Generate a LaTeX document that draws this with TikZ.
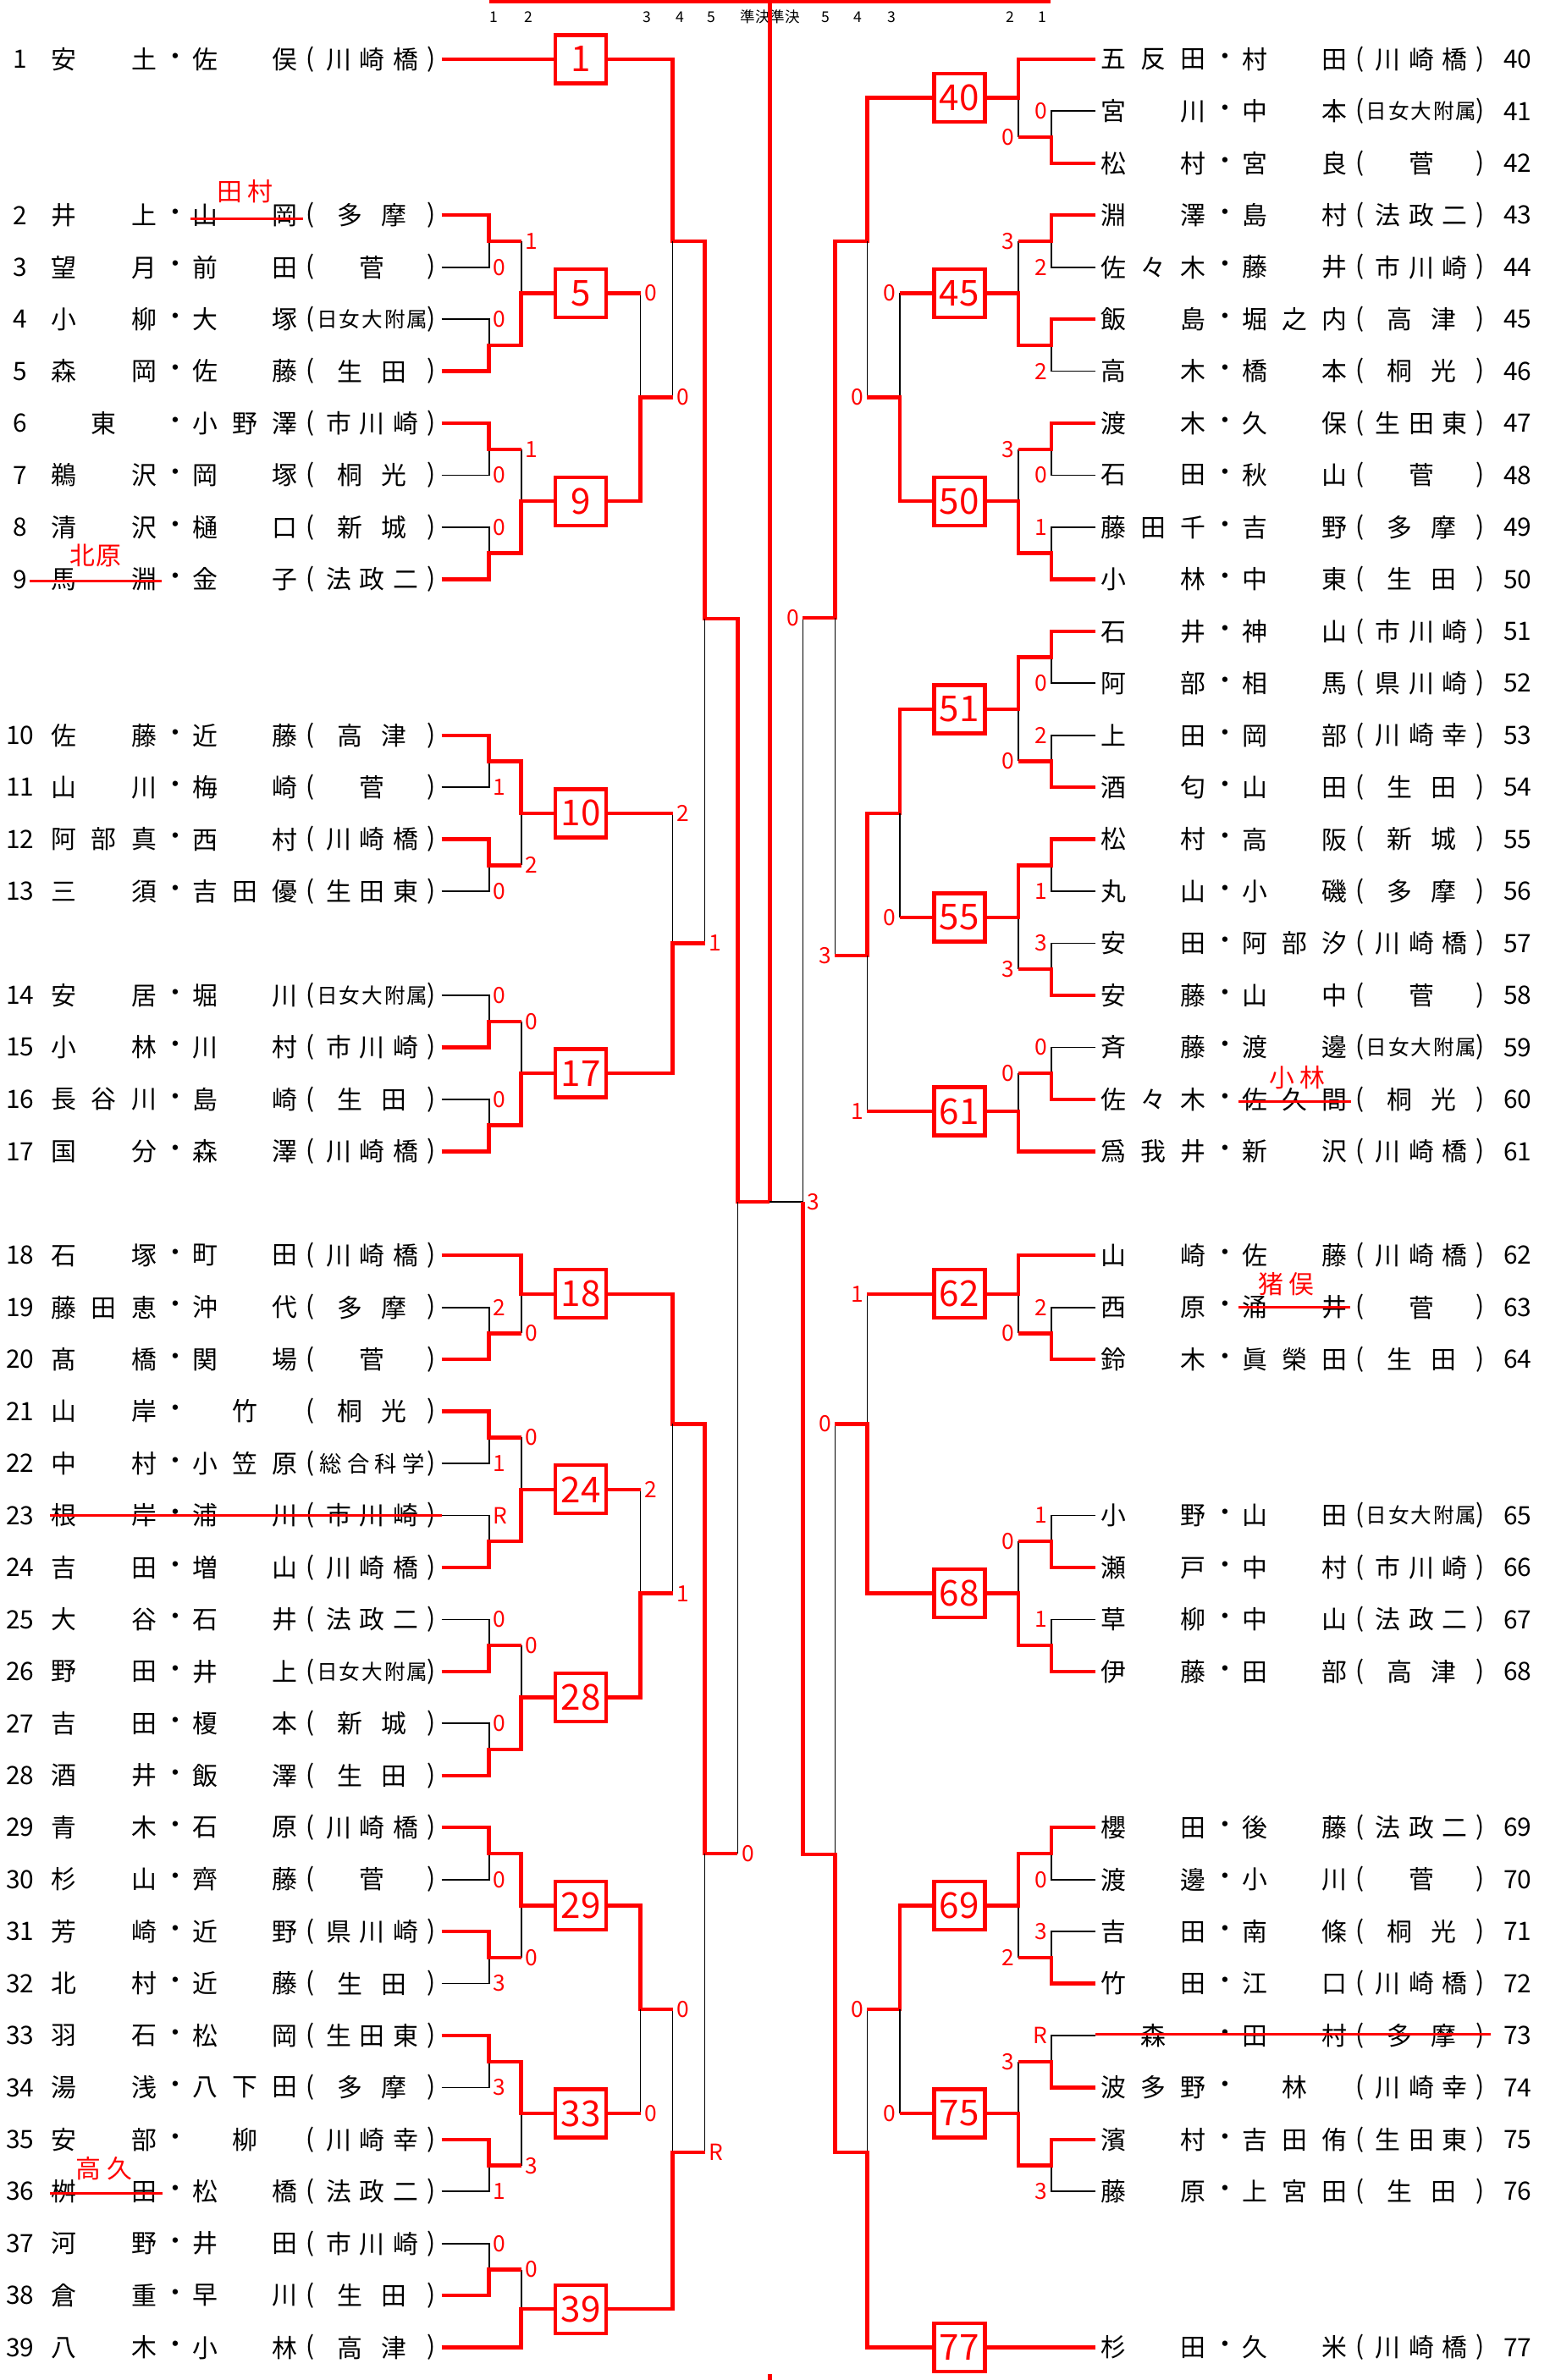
\documentclass[tikz,border=0pt]{standalone}
\usepackage{fontspec}
\setmainfont{Noto Sans CJK JP}
\usepackage{xcolor}

% spread a few characters over a fixed width (one char: centred)
\newcount\nch
\def\cntloop#1#2\relax{\advance\nch by 1 \ifx\relax#2\relax\else\cntloop#2\relax\fi}
\def\sprloop#1#2\relax{#1\ifx\relax#2\relax\else\hfill\sprloop#2\relax\fi}
\newcommand\spread[2]{\makebox[#1][s]{\hskip0pt plus1fil\expandafter\sprloop#2\relax\hskip0pt plus1fil}}
\newcommand\school[1]{\nch=0 \expandafter\cntloop#1\relax
  \ifcase\nch\or\spread{0.3cm}{#1}\or\spread{0.82cm}{#1}\or\spread{1.09cm}{#1}%
  \or{\fontsize{7.5}{9}\selectfont\spread{1.24cm}{#1}}%
  \else{\fontsize{7}{8}\selectfont\spread{1.31cm}{#1}}\fi}

\begin{document}
\begin{tikzpicture}[
x=0.01cm,
y=-0.6145cm,
nm/.style={inner sep=0pt,font=\fontsize{8.5}{10}\selectfont},
rownum/.style={inner sep=0pt,font=\fontsize{8.5}{10}\selectfont},
box/.style={rectangle,draw=red,line width=1.25pt,fill=white,minimum width=0.6cm,minimum height=0.57cm,inner sep=0pt,text=red,font=\fontsize{12}{12}\selectfont},
win/.style={draw=red,line width=1.25pt},
loss/.style={draw=black,line width=0.5pt},
sc/.style={inner sep=0pt,text=red,font=\fontsize{7.5}{8}\selectfont},
lsc/.style={sc,anchor=west,xshift=0.04cm},
rsc/.style={sc,anchor=east,xshift=-0.04cm},
strike/.style={draw=red,line width=0.9pt},
fix/.style={inner sep=0pt,text=red,font=\fontsize{8.5}{10}\selectfont},
hd/.style={inner sep=0pt,font=\fontsize{5}{6}\selectfont}
]
\useasboundingbox (0,-1.1375) rectangle (1832,44.624);

% round header
\foreach \x/\t [count=\i] in {584/1,625/2,765/3,804/4,841/5,893/準決,928/準決,975.5/5,1014/4,1054/3,1194/2,1232.5/1}
  \node[hd] (hd\i) at (\x,-0.81) {\t};

% players, left half
\foreach \k/\nr/\fa/\gi/\sc in {0/1/安土/佐俣/川崎橋,3/2/井上/山岡/多摩,4/3/望月/前田/菅,
  5/4/小柳/大塚/日女大附属,6/5/森岡/佐藤/生田,7/6/東/小野澤/市川崎,8/7/鵜沢/岡塚/桐光,
  9/8/清沢/樋口/新城,10/9/馬淵/金子/法政二,13/10/佐藤/近藤/高津,14/11/山川/梅崎/菅,
  15/12/阿部真/西村/川崎橋,16/13/三須/吉田優/生田東,18/14/安居/堀川/日女大附属,
  19/15/小林/川村/市川崎,20/16/長谷川/島崎/生田,21/17/国分/森澤/川崎橋,
  23/18/石塚/町田/川崎橋,24/19/藤田恵/沖代/多摩,25/20/髙橋/関場/菅,26/21/山岸/竹/桐光,
  27/22/中村/小笠原/総合科学,28/23/根岸/浦川/市川崎,29/24/吉田/増山/川崎橋,
  30/25/大谷/石井/法政二,31/26/野田/井上/日女大附属,32/27/吉田/榎本/新城,
  33/28/酒井/飯澤/生田,34/29/青木/石原/川崎橋,35/30/杉山/齊藤/菅,36/31/芳崎/近野/県川崎,
  37/32/北村/近藤/生田,38/33/羽石/松岡/生田東,39/34/湯浅/八下田/多摩,40/35/安部/柳/川崎幸,
  41/36/桝田/松橋/法政二,42/37/河野/井田/市川崎,43/38/倉重/早川/生田,44/39/八木/小林/高津}{
  \node[rownum] (n\nr) at (24,\k) {\nr};
  \node[nm] (fa\nr) at (123,\k) {\spread{1.24cm}{\fa}};
  \node[nm] (dt\nr) at (208,\k) {・};
  \node[nm] (gi\nr) at (290,\k) {\spread{1.24cm}{\gi}};
  \node[nm] (lp\nr) at (367,\k) {(};
  \node[nm] (sc\nr) at (440,\k) {\school{\sc}};
  \node[nm] (rp\nr) at (510,\k) {)};
  \coordinate (e\nr) at (522,\k);
}

% players, right half
\foreach \k/\nr/\fa/\gi/\sc in {0/40/五反田/村田/川崎橋,1/41/宮川/中本/日女大附属,2/42/松村/宮良/菅,
  3/43/淵澤/島村/法政二,4/44/佐々木/藤井/市川崎,5/45/飯島/堀之内/高津,6/46/高木/橋本/桐光,
  7/47/渡木/久保/生田東,8/48/石田/秋山/菅,9/49/藤田千/吉野/多摩,10/50/小林/中東/生田,
  11/51/石井/神山/市川崎,12/52/阿部/相馬/県川崎,13/53/上田/岡部/川崎幸,14/54/酒匂/山田/生田,
  15/55/松村/高阪/新城,16/56/丸山/小磯/多摩,17/57/安田/阿部汐/川崎橋,18/58/安藤/山中/菅,
  19/59/斉藤/渡邊/日女大附属,20/60/佐々木/佐久間/桐光,21/61/爲我井/新沢/川崎橋,
  23/62/山崎/佐藤/川崎橋,24/63/西原/涌井/菅,25/64/鈴木/眞榮田/生田,
  28/65/小野/山田/日女大附属,29/66/瀬戸/中村/市川崎,30/67/草柳/中山/法政二,31/68/伊藤/田部/高津,
  34/69/櫻田/後藤/法政二,35/70/渡邊/小川/菅,36/71/吉田/南條/桐光,37/72/竹田/江口/川崎橋,
  38/73/森/田村/多摩,39/74/波多野/林/川崎幸,40/75/濱村/吉田侑/生田東,41/76/藤原/上宮田/生田,
  44/77/杉田/久米/川崎橋}{
  \node[rownum] (n\nr) at (1794,\k) {\nr};
  \node[nm] (fa\nr) at (1363,\k) {\spread{1.24cm}{\fa}};
  \node[nm] (dt\nr) at (1448,\k) {・};
  \node[nm] (gi\nr) at (1530,\k) {\spread{1.24cm}{\gi}};
  \node[nm] (lp\nr) at (1607,\k) {(};
  \node[nm] (sc\nr) at (1680,\k) {\school{\sc}};
  \node[nm] (rp\nr) at (1750,\k) {)};
  \coordinate (e\nr) at (1295,\k);
}

% block winners
\foreach \b/\k in {1/0,5/4.5,9/8.5,10/14.5,17/19.5,18/23.74,24/27.5,28/31.5,29/35.5,33/39.5,39/43.26}
  \node[box] (b\b) at (686.5,\k) {\b};
\foreach \b/\k in {40/0.74,45/4.5,50/8.5,51/12.5,55/16.5,61/20.23,62/23.74,68/29.5,69/35.5,75/39.5,77/44}
  \node[box] (b\b) at (1134,\k) {\b};

% left top quarter
\draw[win] (e1) -- (b1.west);
\draw[win] (b1.east) -| (795,3.5) -| (833,10.76) -| (872,21.97) -- (910,21.97);
\draw[win,line width=1.4pt] (910,21.97) -- (910,-1.1375);
\draw[win] (578,-1.115) -- (1242,-1.115);

\draw[loss] (e3) -| (578,3.5);
\draw[loss] (e4) -| (578,5.5);
\draw[loss] (616,3.5) -- (616,4.5);
\draw[win] (e2) -| (578,3.5) -- (616,3.5);
\draw[win] (e5) -| (578,5.5) -| (616,4.5) -- (b5.west);
\draw[loss] (757,4.5) -- (757,6.5);
\draw[win] (b5.east) -- (757,4.5);

\draw[loss] (e7) -| (578,7.5);
\draw[loss] (e8) -| (578,9.5);
\draw[loss] (616,7.5) -- (616,8.5);
\draw[win] (e6) -| (578,7.5) -- (616,7.5);
\draw[win] (e9) -| (578,9.5) -| (616,8.5) -- (b9.west);
\draw[loss] (795,6.5) -- (795,3.5);
\draw[win] (b9.east) -| (757,6.5) -- (795,6.5);

\draw[loss] (e11) -| (578,13.5);
\draw[loss] (e13) -| (578,15.5);
\draw[loss] (616,15.5) -- (616,14.5);
\draw[win] (e12) -| (578,15.5) -- (616,15.5);
\draw[win] (e10) -| (578,13.5) -| (616,14.5) -- (b10.west);
\draw[loss] (795,14.5) -- (795,17);
\draw[win] (b10.east) -- (795,14.5);

\draw[loss] (e14) -| (578,18.5);
\draw[loss] (e16) -| (578,20.5);
\draw[loss] (616,18.5) -- (616,19.5);
\draw[win] (e15) -| (578,18.5) -- (616,18.5);
\draw[win] (e17) -| (578,20.5) -| (616,19.5) -- (b17.west);
\draw[loss] (833,17) -- (833,10.76);
\draw[win] (b17.east) -| (795,17) -- (833,17);

% left bottom quarter
\draw[loss] (e19) -| (578,24.5);
\draw[loss] (616,24.5) -- (616,23.74);
\draw[win] (e20) -| (578,24.5) -- (616,24.5);
\draw[loss] (872,34.5) -- (872,21.97);
\draw[win] (e18) -| (616,23.74) -- (b18.west);
\draw[win] (b18.east) -| (795,26.24) -| (833,34.5) -- (872,34.5);

\draw[loss] (e22) -| (578,26.5);
\draw[loss] (e23) -| (578,28.5);
\draw[loss] (616,26.5) -- (616,27.5);
\draw[win] (e21) -| (578,26.5) -- (616,26.5);
\draw[win] (e24) -| (578,28.5) -| (616,27.5) -- (b24.west);
\draw[loss] (757,27.5) -- (757,29.5);
\draw[win] (b24.east) -- (757,27.5);

\draw[loss] (e25) -| (578,30.5);
\draw[loss] (e27) -| (578,32.5);
\draw[loss] (616,30.5) -- (616,31.5);
\draw[win] (e26) -| (578,30.5) -- (616,30.5);
\draw[win] (e28) -| (578,32.5) -| (616,31.5) -- (b28.west);
\draw[loss] (795,29.5) -- (795,26.24);
\draw[win] (b28.east) -| (757,29.5) -- (795,29.5);

\draw[loss] (e30) -| (578,34.5);
\draw[loss] (e32) -| (578,36.5);
\draw[loss] (616,36.5) -- (616,35.5);
\draw[win] (e31) -| (578,36.5) -- (616,36.5);
\draw[win] (e29) -| (578,34.5) -| (616,35.5) -- (b29.west);
\draw[loss] (795,37.5) -- (795,40.25);
\draw[win] (b29.east) -| (757,37.5) -- (795,37.5);

\draw[loss] (e34) -| (578,38.5);
\draw[loss] (e36) -| (578,40.5);
\draw[loss] (616,40.5) -- (616,39.5);
\draw[win] (e35) -| (578,40.5) -- (616,40.5);
\draw[win] (e33) -| (578,38.5) -| (616,39.5) -- (b33.west);
\draw[loss] (757,39.5) -- (757,37.5);
\draw[win] (b33.east) -- (757,39.5);

\draw[loss] (e37) -| (578,42.5);
\draw[loss] (616,42.5) -- (616,43.26);
\draw[win] (e38) -| (578,42.5) -- (616,42.5);
\draw[loss] (833,40.25) -- (833,34.5);
\draw[win] (e39) -| (616,43.26) -- (b39.west);
\draw[win] (b39.east) -| (795,40.25) -- (833,40.25);

% right top quarter
\draw[loss] (e41) -| (1243,1.5);
\draw[loss] (1204,1.5) -- (1204,0.74);
\draw[win] (e42) -| (1243,1.5) -- (1204,1.5);
\draw[loss] (949,10.74) -- (949,21.97);
\draw[win] (e40) -| (1204,0.74) -- (b40.east);
\draw[win] (b40.west) -| (1025,3.5) -| (987,10.74) -- (949,10.74);

\draw[loss] (e44) -| (1243,3.5);
\draw[loss] (e46) -| (1243,5.5);
\draw[loss] (1204,3.5) -- (1204,4.5);
\draw[win] (e43) -| (1243,3.5) -- (1204,3.5);
\draw[win] (e45) -| (1243,5.5) -| (1204,4.5) -- (b45.east);
\draw[loss] (1063.5,4.5) -- (1063.5,6.5);
\draw[win] (b45.west) -- (1063.5,4.5);

\draw[loss] (e48) -| (1243,7.5);
\draw[loss] (e49) -| (1243,9.5);
\draw[loss] (1204,7.5) -- (1204,8.5);
\draw[win] (e47) -| (1243,7.5) -- (1204,7.5);
\draw[win] (e50) -| (1243,9.5) -| (1204,8.5) -- (b50.east);
\draw[loss] (1025,6.5) -- (1025,3.5);
\draw[win] (b50.west) -| (1063.5,6.5) -- (1025,6.5);

\draw[loss] (e52) -| (1243,11.5);
\draw[loss] (e53) -| (1243,13.5);
\draw[loss] (1204,13.5) -- (1204,12.5);
\draw[win] (e54) -| (1243,13.5) -- (1204,13.5);
\draw[win] (e51) -| (1243,11.5) -| (1204,12.5) -- (b51.east);
\draw[loss] (987,17.24) -- (987,10.74);
\draw[win] (b51.west) -| (1063.5,14.5) -| (1025,17.24) -- (987,17.24);

\draw[loss] (e56) -| (1243,15.5);
\draw[loss] (e57) -| (1243,17.5);
\draw[loss] (1204,17.5) -- (1204,16.5);
\draw[win] (e58) -| (1243,17.5) -- (1204,17.5);
\draw[win] (e55) -| (1243,15.5) -| (1204,16.5) -- (b55.east);
\draw[loss] (1063.5,16.5) -- (1063.5,14.5);
\draw[win] (b55.west) -- (1063.5,16.5);

\draw[loss] (e59) -| (1243,19.5);
\draw[loss] (1204,19.5) -- (1204,20.23);
\draw[win] (e60) -| (1243,19.5) -- (1204,19.5);
\draw[loss] (1025,20.23) -- (1025,17.24);
\draw[win] (e61) -| (1204,20.23) -- (b61.east);
\draw[win] (b61.west) -- (1025,20.23);

% right bottom quarter
\draw[loss] (e63) -| (1243,24.5);
\draw[loss] (1204,24.5) -- (1204,23.74);
\draw[win] (e64) -| (1243,24.5) -- (1204,24.5);
\draw[loss] (1025,23.74) -- (1025,26.24);
\draw[win] (e62) -| (1204,23.74) -- (b62.east);
\draw[win] (b62.west) -- (1025,23.74);

\draw[loss] (e65) -| (1243,28.5);
\draw[loss] (e67) -| (1243,30.5);
\draw[loss] (1204,28.5) -- (1204,29.5);
\draw[win] (e66) -| (1243,28.5) -- (1204,28.5);
\draw[win] (e68) -| (1243,30.5) -| (1204,29.5) -- (b68.east);
\draw[loss] (987,26.24) -- (987,34.52);
\draw[win] (b68.west) -| (1025,26.24) -- (987,26.24);

\draw[loss] (e70) -| (1243,34.5);
\draw[loss] (e71) -| (1243,36.5);
\draw[loss] (1204,36.5) -- (1204,35.5);
\draw[win] (e72) -| (1243,36.5) -- (1204,36.5);
\draw[win] (e69) -| (1243,34.5) -| (1204,35.5) -- (b69.east);
\draw[loss] (1025,37.5) -- (1025,40.25);
\draw[win] (b69.west) -| (1063.5,37.5) -- (1025,37.5);

\draw[loss] (e73) -| (1243,38.5);
\draw[loss] (e76) -| (1243,40.5);
\draw[loss] (1204,38.5) -- (1204,39.5);
\draw[win] (e74) -| (1243,38.5) -- (1204,38.5);
\draw[win] (e75) -| (1243,40.5) -| (1204,39.5) -- (b75.east);
\draw[loss] (1063.5,39.5) -- (1063.5,37.5);
\draw[win] (b75.west) -- (1063.5,39.5);

\draw[loss] (949,21.97) -- (910,21.97);
\draw[win] (e77) -- (b77.east);
\draw[win] (b77.west) -| (1025,40.25) -| (987,34.52) -| (949,21.97);
\draw[win,line width=1.4pt] (910,44.51) -- (910,44.624);

% scores
\foreach \x/\y/\t [count=\i] in {578/4/0,578/5/0,616/3.5/1,757/4.5/0,578/8/0,578/9/0,616/7.5/1,795/6.5/0,
  578/14/1,578/16/0,616/15.5/2,795/14.5/2,578/18/0,578/20/0,616/18.5/0,833/17/1,
  578/24/2,616/24.5/0,872/34.5/0,578/27/1,578/28/R,616/26.5/0,757/27.5/2,
  578/30/0,578/32/0,616/30.5/0,795/29.5/1,578/35/0,578/37/3,616/36.5/0,795/37.5/0,
  578/39/3,578/41/1,616/40.5/3,757/39.5/0,578/42/0,616/42.5/0,833/40.25/R,949/21.97/3}
  \node[lsc] (ls\i) at (\x,\y) {\t};
\foreach \x/\y/\t [count=\i] in {1243/1/0,1204/1.5/0,1243/4/2,1243/6/2,1204/3.5/3,1063.5/4.5/0,
  1243/8/0,1243/9/1,1204/7.5/3,1025/6.5/0,987/17.24/3,949/10.74/0,
  1243/12/0,1243/13/2,1204/13.5/0,1243/16/1,1243/17/3,1204/17.5/3,1063.5/16.5/0,
  1243/19/0,1204/19.5/0,1025/20.23/1,1243/24/2,1204/24.5/0,1025/23.74/1,
  1243/28/1,1243/30/1,1204/28.5/0,987/26.24/0,1243/35/0,1243/36/3,1204/36.5/2,1025/37.5/0,
  1243/38/R,1243/41/3,1204/38.5/3,1063.5/39.5/0}
  \node[rsc] (rs\i) at (\x,\y) {\t};

% changed names
\draw[strike] (225,3.07) -- (358,3.07);
\node[fix] (fix1) at (290,2.55) {田\kern0.06cm村};
\draw[strike] (35,10.03) -- (191,10.03);
\node[fix] (fix2) at (113,9.54) {北\kern0.02cm原};
\draw[strike] (59,28) -- (522,28);
\draw[strike] (59,41.03) -- (192,41.03);
\node[fix] (fix3) at (123,40.55) {高\kern0.08cm久};
\draw[strike] (1464,20.04) -- (1597,20.04);
\node[fix] (fix4) at (1533,19.58) {小\kern0.06cm林};
\draw[strike] (1464,24) -- (1596,24);
\node[fix] (fix5) at (1520,23.55) {猪\kern0.06cm俣};
\draw[strike] (1295,37.98) -- (1762,37.98);
\end{tikzpicture}
\end{document}
